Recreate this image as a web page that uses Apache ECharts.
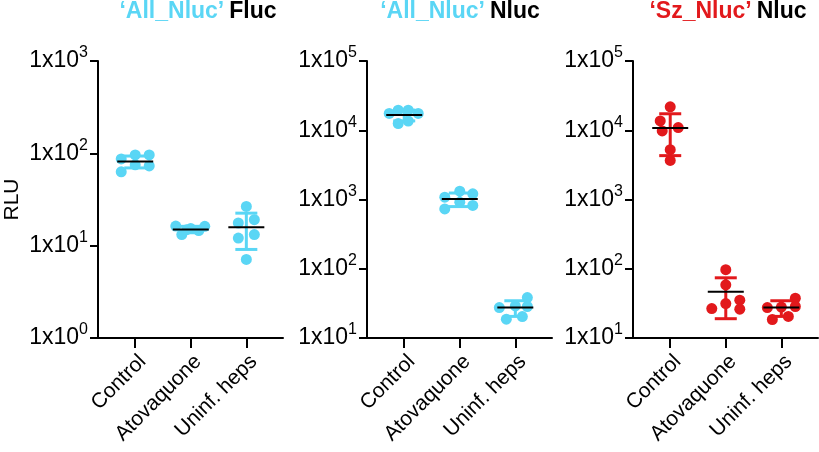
<!DOCTYPE html>
<html>
<head>
<meta charset="utf-8">
<script src="https://cdn.jsdelivr.net/npm/echarts@6/dist/echarts.min.js"></script>
<style>
  html, body { margin: 0; padding: 0; background: #fff; }
  #chart { width: 819px; height: 452px; }
</style>
</head>
<body>
<div id="chart"></div>
<script>
// groups on the x axis
var categories = ['Control', 'Atovaquone', 'Uninf. heps'];

// panel 1: 'All_Nluc' Fluc  (RLU, 6 wells per group)
var fluc_control = [87, 96, 96, 63, 73, 75];
var fluc_atova = [16.3, 16.2, 13.2, 15.3, 14.6, 14.9];
var fluc_uninf = [26.6, 17.6, 19.1, 12.1, 13.2, 7.1];
var fluc_mean = [81.5, 15.0, 15.8];
var fluc_sd = [12, 1.2, 6.7];

// panel 2: 'All_Nluc' Nluc
var alln_control = [17500, 19500, 19500, 17500, 12500, 13600];
var alln_atova = [1080, 1320, 1210, 730, 820, 915];
var alln_uninf = [27.5, 38.4, 28.5, 18.7, 20.4, 29];
var alln_mean = [16600, 1015, 27.5];
var alln_sd = [2950, 225, 7];

// panel 3: 'Sz_Nluc' Nluc
var sz_control = [21800, 13650, 10930, 9770, 5250, 3670];
var sz_atova = [96.8, 58.7, 35.2, 26.6, 31.4, 26.1];
var sz_uninf = [27.5, 37.5, 28.5, 18.5, 20.5, 28];
var sz_mean = [10800, 46.5, 27.5];
var sz_sd = [6500, 27.5, 7];

var CYAN = '#5ad6f5';
var RED = '#e2191c';

// horizontal spread of the dots inside each column (pixels)
var swarm = [
  [[-14, 0, 14, -14, 14, 0], [-15, 14, -9, 0, 8, -4], [0, -8, 8, -8, 8, 0]],
  [[-15, -6, 4, 14, -6, 4], [-15, 0, 13, -15, 13, 0], [-16, 12, 12, -9, 7, 0]],
  [[0, -10, 8, -8, 0, 0], [0, 0, 14, -14, 0, 14], [-14, 14, 14, -9, 7, 0]]
];

var panels = [
  {left: 98, title: '{c|‘All_Nluc’} {k|Fluc}', tx: 193, titleColor: CYAN, color: CYAN,
   min: 1, max: 1000, groups: [fluc_control, fluc_atova, fluc_uninf], mean: fluc_mean, sd: fluc_sd},
  {left: 367, title: '{c|‘All_Nluc’} {k|Nluc}', tx: 455, titleColor: CYAN, color: CYAN,
   min: 10, max: 100000, groups: [alln_control, alln_atova, alln_uninf], mean: alln_mean, sd: alln_sd},
  {left: 633, title: '{c|‘Sz_Nluc’} {k|Nluc}', tx: 723, titleColor: RED, color: RED,
   min: 10, max: 100000, groups: [sz_control, sz_atova, sz_uninf], mean: sz_mean, sd: sz_sd}
];

var FONT = 'Liberation Sans, Arial, sans-serif';

function errorBarRender(color) {
  return function (params, api) {
    var cx = api.value(0);
    var m = api.coord([cx, api.value(1)]);
    var lo = api.coord([cx, api.value(2)]);
    var hi = api.coord([cx, api.value(3)]);
    var cap = 11, half = 18;
    var st = {stroke: color, lineWidth: 3};
    return {
      type: 'group',
      children: [
        {type: 'line', shape: {x1: m[0], y1: lo[1], x2: m[0], y2: hi[1]}, style: st},
        {type: 'line', shape: {x1: m[0] - cap, y1: lo[1], x2: m[0] + cap, y2: lo[1]}, style: st},
        {type: 'line', shape: {x1: m[0] - cap, y1: hi[1], x2: m[0] + cap, y2: hi[1]}, style: st},
        {type: 'line', shape: {x1: m[0] - half, y1: m[1], x2: m[0] + half, y2: m[1]},
         style: {stroke: '#000', lineWidth: 2}}
      ]
    };
  };
}

var option = {
  animation: false,
  backgroundColor: '#fff',
  title: [],
  grid: [],
  xAxis: [],
  yAxis: [],
  series: []
};

panels.forEach(function (p, i) {
  option.title.push({
    text: p.title,
    left: p.tx,
    top: -5,
    textAlign: 'center',
    textStyle: {
      rich: {
        c: {color: p.titleColor, fontSize: 23, fontWeight: 'bold', fontFamily: FONT},
        k: {color: '#000', fontSize: 23, fontWeight: 'bold', fontFamily: FONT}
      }
    }
  });
  option.grid.push({left: p.left, top: 61, width: 185, height: 277});
  option.xAxis.push({
    type: 'value',
    gridIndex: i,
    min: -0.67,
    max: 2.66,
    splitLine: {show: false},
    axisLine: {show: true, onZero: false, lineStyle: {color: '#000', width: 2}},
    axisTick: {show: true, customValues: [0, 1, 2], length: 10, lineStyle: {color: '#000', width: 2}},
    axisLabel: {
      customValues: [0, 1, 2],
      rotate: 45,
      margin: 13,
      verticalAlign: 'top',
      color: '#000',
      fontSize: 21,
      fontFamily: FONT,
      formatter: function (v) { return categories[Math.round(v)]; }
    }
  });
  option.yAxis.push({
    type: 'log',
    logBase: 10,
    gridIndex: i,
    min: p.min,
    max: p.max,
    name: i === 0 ? 'RLU' : '',
    nameLocation: 'middle',
    nameGap: 75,
    nameRotate: 90,
    nameTextStyle: {color: '#000', fontSize: 21, fontFamily: FONT},
    splitLine: {show: false},
    axisLine: {show: true, onZero: false, lineStyle: {color: '#000', width: 2}},
    axisTick: {show: true, length: 8, lineStyle: {color: '#000', width: 2}},
    axisLabel: {
      margin: 10,
      color: '#000',
      fontFamily: FONT,
      formatter: function (v) {
        return '{b|1x10}{s|' + Math.round(Math.log10(v)) + '}';
      },
      rich: {
        b: {fontSize: 23, fontFamily: FONT, color: '#000'},
        s: {fontSize: 16, fontFamily: FONT, color: '#000', padding: [0, 0, 16, 0]}
      }
    }
  });
  p.groups.forEach(function (vals, g) {
    option.series.push({
      type: 'scatter',
      xAxisIndex: i,
      yAxisIndex: i,
      symbolSize: 11,
      itemStyle: {color: p.color, opacity: 1},
      z: 2,
      data: vals.map(function (v, k) {
        return {value: [g, v], symbolOffset: [swarm[i][g][k], 0]};
      })
    });
  });
  option.series.push({
    type: 'custom',
    xAxisIndex: i,
    yAxisIndex: i,
    z: 3,
    clip: false,
    renderItem: errorBarRender(p.color),
    data: p.mean.map(function (m, g) {
      return [g, m, m - p.sd[g], m + p.sd[g]];
    })
  });
});

var chart = echarts.init(document.getElementById('chart'));
chart.setOption(option);
</script>
</body>
</html>
